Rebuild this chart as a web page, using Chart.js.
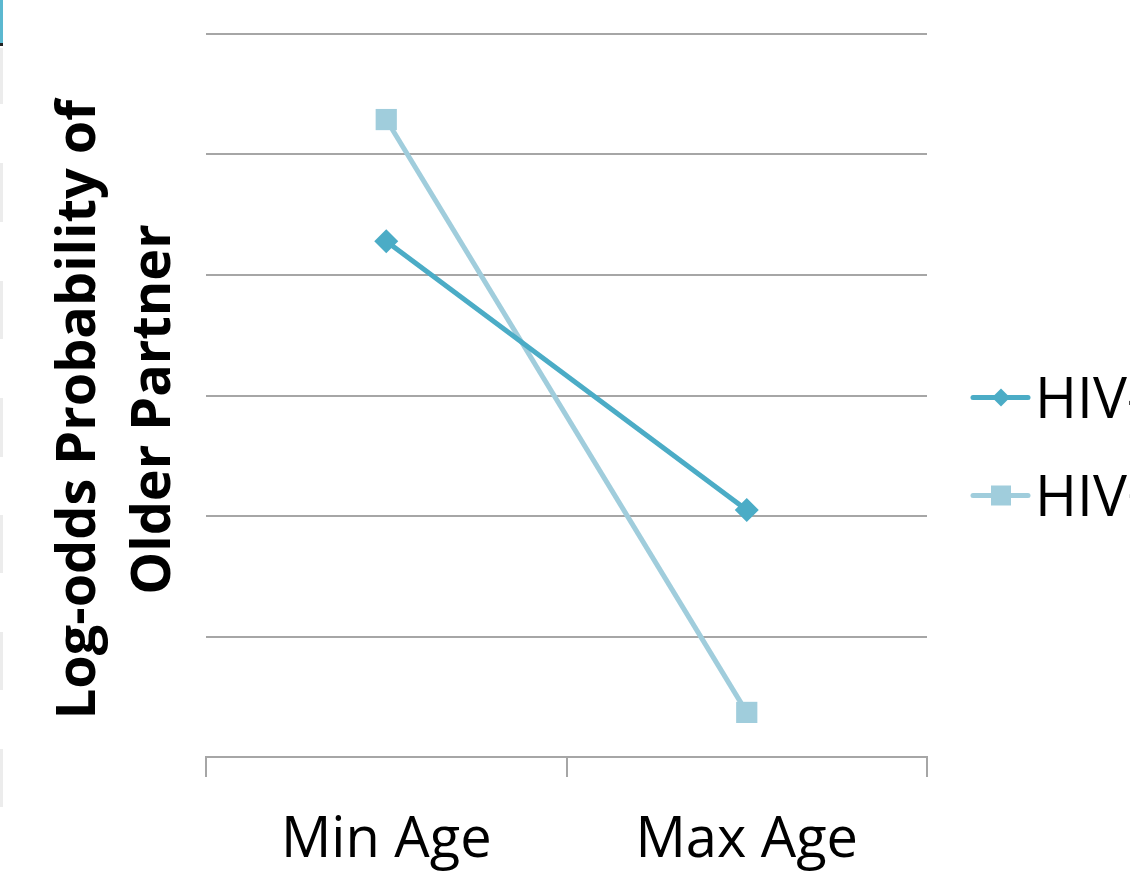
<!DOCTYPE html>
<html>
<head>
<meta charset="utf-8">
<title>Log-odds Probability of Older Partner</title>
<script src="https://cdn.jsdelivr.net/npm/chart.js@4/dist/chart.umd.min.js"></script>
<style>
  html, body { margin: 0; padding: 0; background: #fff; overflow: hidden; }
  #wrap { position: relative; width: 1130px; height: 877px; }
  .edge { position: absolute; left: 0; width: 3px; background: #ececec; }
</style>
</head>
<body>
<div id="wrap">
  <canvas id="chart" width="1130" height="877"></canvas>
  <div class="edge" style="top:0;height:43px;background:#5bb8d0"></div>
  <div class="edge" style="top:43px;height:3px;background:#222"></div>
  <div class="edge" style="top:48px;height:56px"></div>
  <div class="edge" style="top:163px;height:59px"></div>
  <div class="edge" style="top:281px;height:58px"></div>
  <div class="edge" style="top:398px;height:59px"></div>
  <div class="edge" style="top:515px;height:58px"></div>
  <div class="edge" style="top:632px;height:58px"></div>
  <div class="edge" style="top:749px;height:58px"></div>
</div>
<script>
const categories = ['Min Age', 'Max Age'];
const hivNeg = [4.28, 2.05];
const hivPos = [5.29, 0.37];
const seriesNames = ['HIV-', 'HIV+'];
// trailing nbsp nudges the centred title a little lower, as in the slide
const yTitle = ['Log-odds Probability of\u00a0\u00a0', 'Older Partner\u00a0\u00a0'];

const darkTeal = '#4bacc6';
const lightTeal = '#a0cddc';
const gridGray = '#a6a6a6';

// legend drawn by hand: line with marker in the middle, like the Office legend
const sideLegend = {
  id: 'sideLegend',
  afterDraw(chart) {
    const { ctx, chartArea } = chart;
    const mid = (chartArea.top + chartArea.bottom) / 2;
    const x0 = chartArea.right + 46;
    chart.data.datasets.forEach((ds, i) => {
      const y = mid + 2 + i * 98;
      ctx.save();
      ctx.strokeStyle = ds.borderColor;
      ctx.lineWidth = 5;
      ctx.lineCap = 'round';
      ctx.beginPath();
      ctx.moveTo(x0, y);
      ctx.lineTo(x0 + 55, y);
      ctx.stroke();
      ctx.fillStyle = ds.borderColor;
      const cx = x0 + 28;
      if (ds.pointStyle === 'rectRot') {
        ctx.beginPath();
        ctx.moveTo(cx, y - 9);
        ctx.lineTo(cx + 9, y);
        ctx.lineTo(cx, y + 9);
        ctx.lineTo(cx - 9, y);
        ctx.closePath();
        ctx.fill();
      } else {
        ctx.fillRect(cx - 10, y - 10, 20, 20);
      }
      ctx.fillStyle = '#000';
      ctx.font = '57px "Open Sans"';
      ctx.textBaseline = 'middle';
      ctx.fillText(ds.label, x0 + 62, y + 4);
      ctx.restore();
    });
  }
};

new Chart(document.getElementById('chart'), {
  type: 'line',
  data: {
    labels: categories,
    datasets: [
      {
        label: seriesNames[0],
        data: hivNeg,
        borderColor: darkTeal,
        backgroundColor: darkTeal,
        borderWidth: 5,
        pointStyle: 'rectRot',
        pointRadius: 12,
        pointBorderWidth: 0,
        tension: 0
      },
      {
        label: seriesNames[1],
        data: hivPos,
        borderColor: lightTeal,
        backgroundColor: lightTeal,
        borderWidth: 5,
        pointStyle: 'rect',
        pointRadius: 15,
        pointBorderWidth: 0,
        tension: 0
      }
    ]
  },
  options: {
    responsive: false,
    animation: false,
    events: [],
    layout: { padding: { top: 34, right: 203, bottom: 0, left: 0 } },
    plugins: {
      legend: { display: false },
      tooltip: { enabled: false }
    },
    scales: {
      x: {
        offset: true,
        afterFit: (scale) => { scale.height = 120; },
        grid: {
          offset: true,
          drawOnChartArea: false,
          tickLength: 20,
          color: gridGray,
          lineWidth: 2
        },
        border: { color: gridGray, width: 2 },
        ticks: {
          color: '#000',
          padding: 30,
          font: { family: 'Open Sans', size: 56 }
        }
      },
      y: {
        min: 0,
        max: 6,
        afterFit: (scale) => { scale.width = 206; },
        ticks: { display: false, stepSize: 1 },
        grid: { color: gridGray, lineWidth: 2, drawTicks: false },
        border: { display: false },
        title: {
          display: true,
          text: yTitle,
          color: '#000',
          padding: { top: 42 },
          font: { family: 'Open Sans', size: 54, weight: 'bold', lineHeight: '75px' }
        }
      }
    }
  },
  plugins: [sideLegend]
});
</script>
</body>
</html>
